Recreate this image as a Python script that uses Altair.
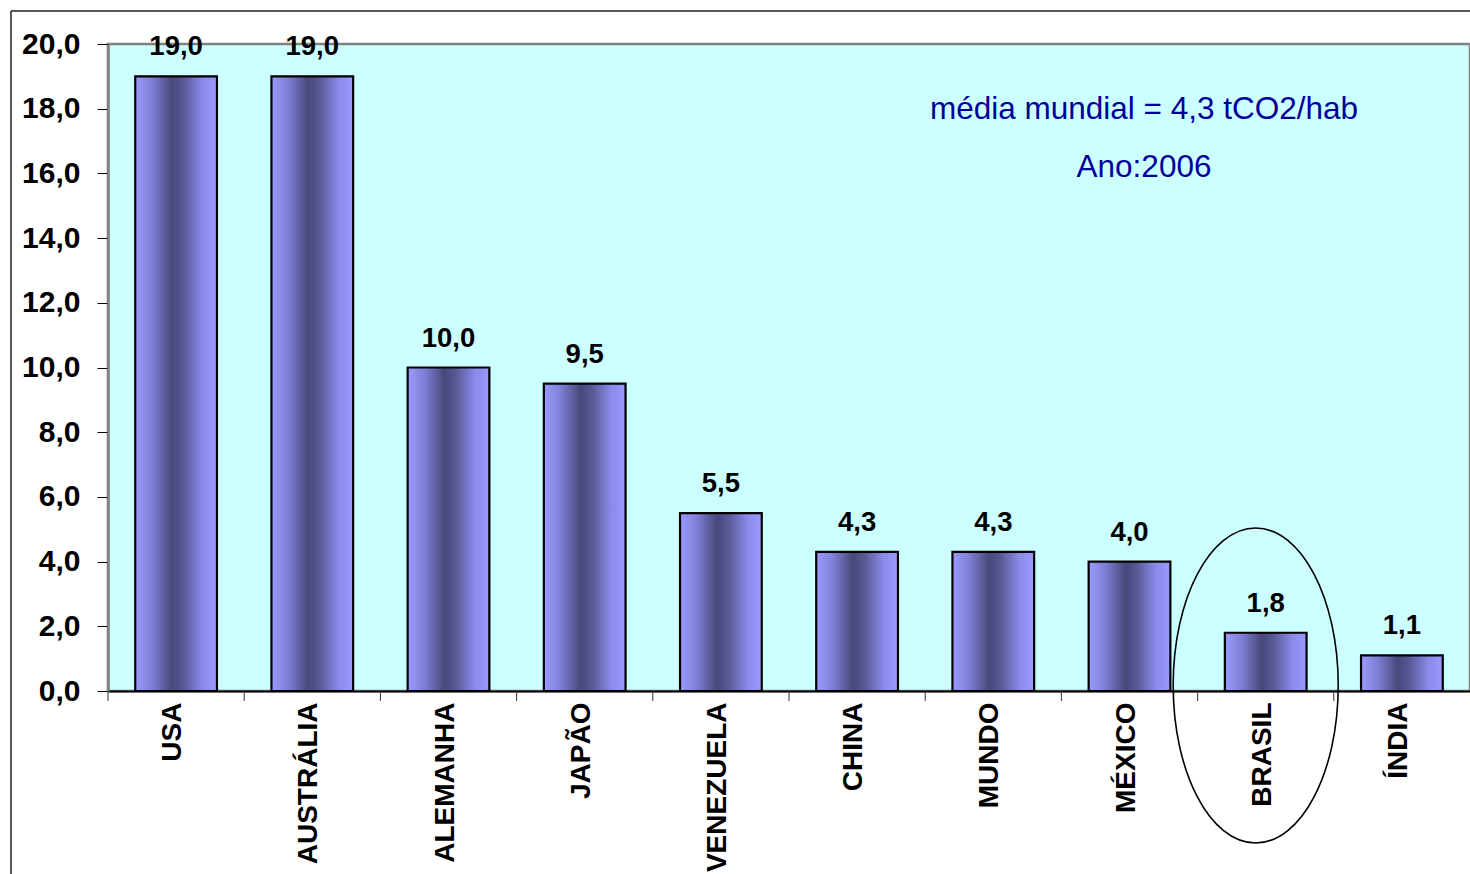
import altair as alt
import pandas as pd

# Emissões de CO2 per capita (tCO2/hab), 2006
countries = ["USA", "AUSTRÁLIA", "ALEMANHA", "JAPÃO", "VENEZUELA",
             "CHINA", "MUNDO", "MÉXICO", "BRASIL", "ÍNDIA"]
emissions = [19.0, 19.0, 10.0, 9.5, 5.5, 4.3, 4.3, 4.0, 1.8, 1.1]
y_ticks = [0, 2, 4, 6, 8, 10, 12, 14, 16, 18, 20]
highlight = "BRASIL"
note_lines = ["média mundial = 4,3 tCO2/hab", "Ano:2006"]

df = pd.DataFrame({"pais": countries, "t": emissions})

W, H = 1362, 647
STEP = W / len(countries)
FONT = "Liberation Sans"

x_scale = alt.Scale(paddingInner=0.4, paddingOuter=0.2)
y_scale = alt.Scale(domain=[0, 20], nice=False)

x_axis = alt.Axis(
    title=None, labelAngle=-90, labelAlign="right", labelBaseline="middle",
    labelFont=FONT, labelFontSize=28, labelFontWeight="bold", labelColor="black",
    labelPadding=11, labelOffset=-3, ticks=False, tickSize=0,
    domainColor="black", domainWidth=2,
)
y_axis = alt.Axis(
    title=None, values=y_ticks, grid=False,
    labelExpr="replace(format(datum.value, '.1f'), '.', ',')",
    labelFont=FONT, labelFontSize=30, labelFontWeight="bold", labelColor="black",
    labelPadding=17, tickSize=11, tickColor="black", tickWidth=1,
    domainColor="#808080", domainWidth=2.5,
)

x_enc = alt.X("pais:N", sort=None, scale=x_scale, axis=x_axis)
x_plain = alt.X("pais:N", sort=None)
y_enc = alt.Y("t:Q", scale=y_scale, axis=y_axis)

bar_fill = alt.Gradient(
    gradient="linear", x1=0, y1=0, x2=1, y2=0,
    stops=[
        alt.GradientStop(color="#9A9AFF", offset=0),
        alt.GradientStop(color="#8080D8", offset=0.2),
        alt.GradientStop(color="#48487A", offset=0.45),
        alt.GradientStop(color="#5A5A98", offset=0.6),
        alt.GradientStop(color="#8A8AEA", offset=0.82),
        alt.GradientStop(color="#9A9AFF", offset=1),
    ],
)

base = alt.Chart(df)

bars = base.mark_bar(color=bar_fill, stroke="black", strokeWidth=2.2).encode(
    x=x_enc, y=y_enc
)

values = base.transform_calculate(
    lbl="replace(format(datum.t, '.1f'), '.', ',')"
).mark_text(
    baseline="alphabetic", dy=-21, font=FONT, fontSize=27.5,
    fontWeight="bold", color="black",
).encode(x=x_plain, y="t:Q", text="lbl:N")

# category separators below the x axis
seps = base.mark_rule(color="#333333", strokeWidth=1, xOffset=-STEP / 2).encode(
    x=x_plain, y=alt.value(H), y2=alt.value(H + 10),
)

# ellipse drawn around the highlighted country
ellipse_path = "M -0.524 0 A 0.524 1 0 1 1 0.524 0 A 0.524 1 0 1 1 -0.524 0 Z"
ellipse = base.transform_filter(alt.datum.pais == highlight).mark_point(
    shape=ellipse_path, size=315 ** 2, filled=False, color="black",
    strokeWidth=1.6, opacity=1, xOffset=-10,
).encode(x=x_plain, y=alt.value(641.5))

note_df = pd.DataFrame({"txt": note_lines})
notes = [
    alt.Chart(note_df).transform_filter(alt.datum.txt == line).mark_text(
        font=FONT, fontSize=31.5, color="#000099", align="center",
        baseline="middle",
    ).encode(text="txt:N", x=alt.value(1036), y=alt.value(y))
    for line, y in zip(note_lines, [66, 124])
]

# outer chart frame
frame_df = pd.DataFrame({"k": [0]})
frame_top = alt.Chart(frame_df).mark_rule(color="#222222", strokeWidth=1.5).encode(
    x=alt.value(-97), x2=alt.value(W + 10), y=alt.value(-33)
)
frame_left = alt.Chart(frame_df).mark_rule(color="#222222", strokeWidth=1.5).encode(
    x=alt.value(-97), y=alt.value(-33), y2=alt.value(H + 190)
)

chart = alt.layer(
    bars, values, seps, ellipse, *notes, frame_top, frame_left
).properties(
    width=W, height=H,
    padding={"left": 108, "top": 44, "right": 0, "bottom": 183},
    autosize="none", background="white",
).configure_view(
    fill="#CCFFFF", stroke="#808080", strokeWidth=2.5
)

chart.save("out.html", embed_options={"renderer": "svg", "actions": False})
